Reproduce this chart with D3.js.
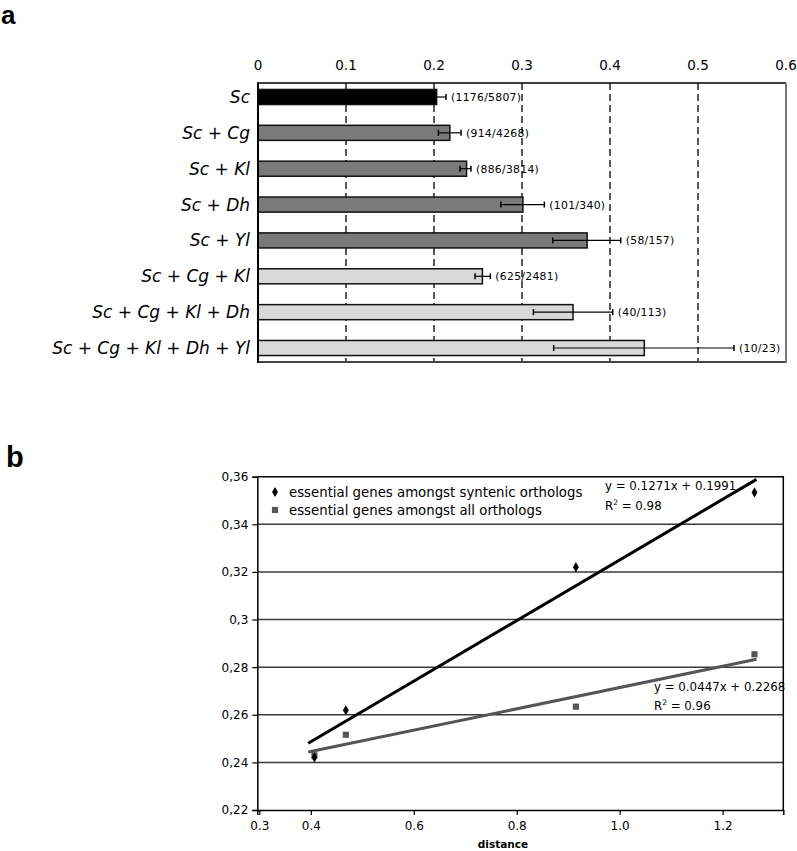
<!DOCTYPE html>
<html>
<head>
<meta charset="utf-8">
<script src="https://cdn.jsdelivr.net/npm/d3@7"></script>
<style>
  body { margin: 0; background: #fff; }
  text { font-family: "DejaVu Sans", Verdana, sans-serif; fill: #000; }
</style>
</head>
<body>
<div id="chart"></div>
<script>
// ---- panel a data
var categories = ["Sc", "Sc + Cg", "Sc + Kl", "Sc + Dh", "Sc + Yl",
  "Sc + Cg + Kl", "Sc + Cg + Kl + Dh", "Sc + Cg + Kl + Dh + Yl"];
var ratioLabels = ["(1176/5807)", "(914/4268)", "(886/3814)", "(101/340)",
  "(58/157)", "(625/2481)", "(40/113)", "(10/23)"];
var barValues = [0.203, 0.218, 0.237, 0.301, 0.374, 0.255, 0.358, 0.439];
var errLow  = [0.192, 0.205, 0.2295, 0.276, 0.335, 0.2466, 0.313, 0.336];
var errHigh = [0.2136, 0.2307, 0.242, 0.3254, 0.4122, 0.264, 0.4031, 0.5409];
var barShade = [0, 1, 1, 1, 1, 2, 2, 2];
var xTicksA = [0, 0.1, 0.2, 0.3, 0.4, 0.5, 0.6];

// ---- panel b data
var distance = [0.407, 0.468, 0.915, 1.262];
var syntenic = [0.2421, 0.2619, 0.322, 0.3534];
var allOrthologs = [0.243, 0.2516, 0.2634, 0.2854];
var seriesNames = ["essential genes amongst syntenic orthologs", "essential genes amongst all orthologs"];
var equations = ["y = 0.1271x + 0.1991", "y = 0.0447x + 0.2268"];
var rSquared = ["0.98", "0.96"];
var yTicksB = [0.22, 0.24, 0.26, 0.28, 0.3, 0.32, 0.34, 0.36];
var xTicksB = [0.3, 0.4, 0.6, 0.8, 1.0, 1.2];

var W = 797, H = 851;
var svg = d3.select("#chart").append("svg").attr("width", W).attr("height", H);

// panel letters
svg.append("text").attr("x", 1).attr("y", 24).style("font-family", "Liberation Sans, Arial")
  .style("font-weight", "bold").style("font-size", "26px").text("a");
svg.append("text").attr("x", 6).attr("y", 467).style("font-family", "Liberation Sans, Arial")
  .style("font-weight", "bold").style("font-size", "29px").text("b");

// ================= panel a
var A = {left: 258, right: 786, top: 83, bottom: 362};
var xA = d3.scaleLinear().domain([0, 0.6]).range([A.left, A.right]);
var yA = d3.scaleBand().domain(categories).range([A.top, A.bottom]).paddingInner(0.58).paddingOuter(0.18);
var shades = ["#000000", "#7a7a7a", "#d8d8d8"];
var ga = svg.append("g");

// dashed grid
ga.selectAll("line.grid").data(xTicksA.slice(1, 6)).enter().append("line")
  .attr("x1", function(d){ return xA(d); }).attr("x2", function(d){ return xA(d); })
  .attr("y1", A.top).attr("y2", A.bottom + 1)
  .style("stroke", "#000").style("stroke-width", 1.3).style("stroke-dasharray", "7 4");

// top tick labels
ga.selectAll("text.tick").data(xTicksA).enter().append("text")
  .attr("x", function(d){ return xA(d); }).attr("y", 70)
  .attr("text-anchor", "middle").style("font-size", "13.5px")
  .text(function(d){ return d === 0 ? "0" : d3.format(".1f")(d); });

// bars
ga.selectAll("rect.bar").data(categories).enter().append("rect")
  .attr("x", A.left).attr("y", function(d){ return yA(d); })
  .attr("width", function(d, i){ return xA(barValues[i]) - A.left; })
  .attr("height", yA.bandwidth())
  .style("fill", function(d, i){ return shades[barShade[i]]; })
  .style("stroke", "#111").style("stroke-width", 1.5);

// error bars
var eb = ga.selectAll("g.err").data(categories).enter().append("g")
  .attr("transform", function(d){ return "translate(0," + (yA(d) + yA.bandwidth() / 2) + ")"; });
eb.append("line").attr("x1", function(d, i){ return xA(errLow[i]); })
  .attr("x2", function(d, i){ return xA(errHigh[i]); })
  .style("stroke", "#000").style("stroke-width", 1.2);
eb.append("line").attr("x1", function(d, i){ return xA(errLow[i]); }).attr("x2", function(d, i){ return xA(errLow[i]); })
  .attr("y1", -3).attr("y2", 3).style("stroke", "#000").style("stroke-width", 1.5);
eb.append("line").attr("x1", function(d, i){ return xA(errHigh[i]); }).attr("x2", function(d, i){ return xA(errHigh[i]); })
  .attr("y1", -3).attr("y2", 3).style("stroke", "#000").style("stroke-width", 1.5);
eb.append("text")
  .attr("x", function(d, i){ return xA(Math.max(errHigh[i], barValues[i])) + 5; })
  .attr("y", 4).style("font-size", "10.8px").style("letter-spacing", "0.3px")
  .text(function(d, i){ return ratioLabels[i]; });

// category labels
ga.selectAll("text.cat").data(categories).enter().append("text")
  .attr("x", 250).attr("y", function(d){ return yA(d) + yA.bandwidth() / 2 + 6; })
  .attr("text-anchor", "end").style("font-size", "17px").style("font-style", "italic")
  .text(function(d){ return d; });

// frame
ga.append("line").attr("x1", A.left).attr("x2", A.right).attr("y1", A.top).attr("y2", A.top)
  .style("stroke", "#000").style("stroke-width", 1.5);
ga.append("line").attr("x1", A.left).attr("x2", A.right).attr("y1", A.bottom).attr("y2", A.bottom)
  .style("stroke", "#444").style("stroke-width", 2);
ga.append("line").attr("x1", A.right).attr("x2", A.right).attr("y1", A.top).attr("y2", A.bottom + 1)
  .style("stroke", "#777").style("stroke-width", 2);
ga.append("line").attr("x1", A.left).attr("x2", A.left).attr("y1", A.top - 0.75).attr("y2", A.bottom + 1)
  .style("stroke", "#000").style("stroke-width", 2);

// ================= panel b
var B = {left: 257.3, right: 783.3, top: 476.7, bottom: 810};
var xB = d3.scaleLinear().domain([0.296, 1.318]).range([B.left, B.right]);
var yB = d3.scaleLinear().domain([0.22, 0.36]).range([B.bottom, B.top]);
var gb = svg.append("g");

gb.selectAll("line.grid").data(yTicksB.slice(1, 7)).enter().append("line")
  .attr("x1", B.left).attr("x2", B.right)
  .attr("y1", function(d){ return yB(d); }).attr("y2", function(d){ return yB(d); })
  .style("stroke", "#3a3a3a").style("stroke-width", 1.5);

// top and right border
gb.append("path").attr("d", "M" + B.left + "," + B.top + "H" + B.right + "V" + B.bottom)
  .style("fill", "none").style("stroke", "#000").style("stroke-width", 1.5);

// axes
var yAxis = d3.axisLeft(yB).tickValues(yTicksB).tickSize(5).tickPadding(4)
  .tickFormat(function(d){ return String(+d.toFixed(2)).replace(".", ","); });
var xAxis = d3.axisBottom(xB).tickValues(xTicksB).tickSize(5).tickPadding(6)
  .tickFormat(d3.format(".1f"));
var ya = gb.append("g").attr("transform", "translate(" + B.left + ",0)").call(yAxis);
var xa = gb.append("g").attr("transform", "translate(0," + B.bottom + ")").call(xAxis);
[ya, xa].forEach(function(ax){
  ax.select(".domain").style("stroke", "#000").style("stroke-width", 1.5);
  ax.selectAll(".tick line").style("stroke", "#000").style("stroke-width", 1.2);
  ax.selectAll(".tick text").style("font-size", "12px").style("font-family", "DejaVu Sans").style("fill", "#000");
});

gb.append("text").attr("x", 503).attr("y", 848).attr("text-anchor", "middle")
  .style("font-size", "10.5px").style("font-weight", "bold").text("distance");

// least squares trend lines
function fit(xs, ys){
  var mx = d3.mean(xs), my = d3.mean(ys), sxy = 0, sxx = 0;
  xs.forEach(function(x, i){ sxy += (x - mx) * (ys[i] - my); sxx += (x - mx) * (x - mx); });
  var m = sxy / sxx;
  return function(x){ return m * x + my - m * mx; };
}
var series = [
  {ys: syntenic, color: "#000", sym: d3.symbolDiamond, size: 30},
  {ys: allOrthologs, color: "#555", sym: d3.symbolSquare, size: 38}
];
var ext = d3.extent(distance);
var x0 = ext[0] - 0.012, x1 = ext[1] + 0.004;
series.forEach(function(s){
  var f = fit(distance, s.ys);
  gb.append("line").attr("x1", xB(x0)).attr("y1", yB(f(x0))).attr("x2", xB(x1)).attr("y2", yB(f(x1)))
    .style("stroke", s.color).style("stroke-width", 3);
});
series.slice().reverse().forEach(function(s){
  gb.selectAll(null).data(distance).enter().append("path")
    .attr("d", d3.symbol().type(s.sym).size(s.size))
    .attr("transform", function(d, i){ return "translate(" + xB(d) + "," + yB(s.ys[i]) + ")"; })
    .style("fill", s.color);
});

// legend
series.forEach(function(s, i){
  var ly = 492 + i * 18;
  gb.append("path").attr("d", d3.symbol().type(s.sym).size(s.size))
    .attr("transform", "translate(275," + ly + ")").style("fill", s.color);
  gb.append("text").attr("x", 289).attr("y", ly + 5).style("font-size", "13.3px").text(seriesNames[i]);
});

// equations
var eqPos = [[605, 490], [654, 690.5]];
equations.forEach(function(eq, i){
  gb.append("text").attr("x", eqPos[i][0]).attr("y", eqPos[i][1]).style("font-size", "11.8px").text(eq);
  var t = gb.append("text").attr("x", eqPos[i][0]).attr("y", eqPos[i][1] + 19.5).style("font-size", "11.8px");
  t.append("tspan").text("R");
  t.append("tspan").attr("dy", -5).style("font-size", "7.5px").text("2");
  t.append("tspan").attr("dy", 5).text(" = " + rSquared[i]);
});
</script>
</body>
</html>
